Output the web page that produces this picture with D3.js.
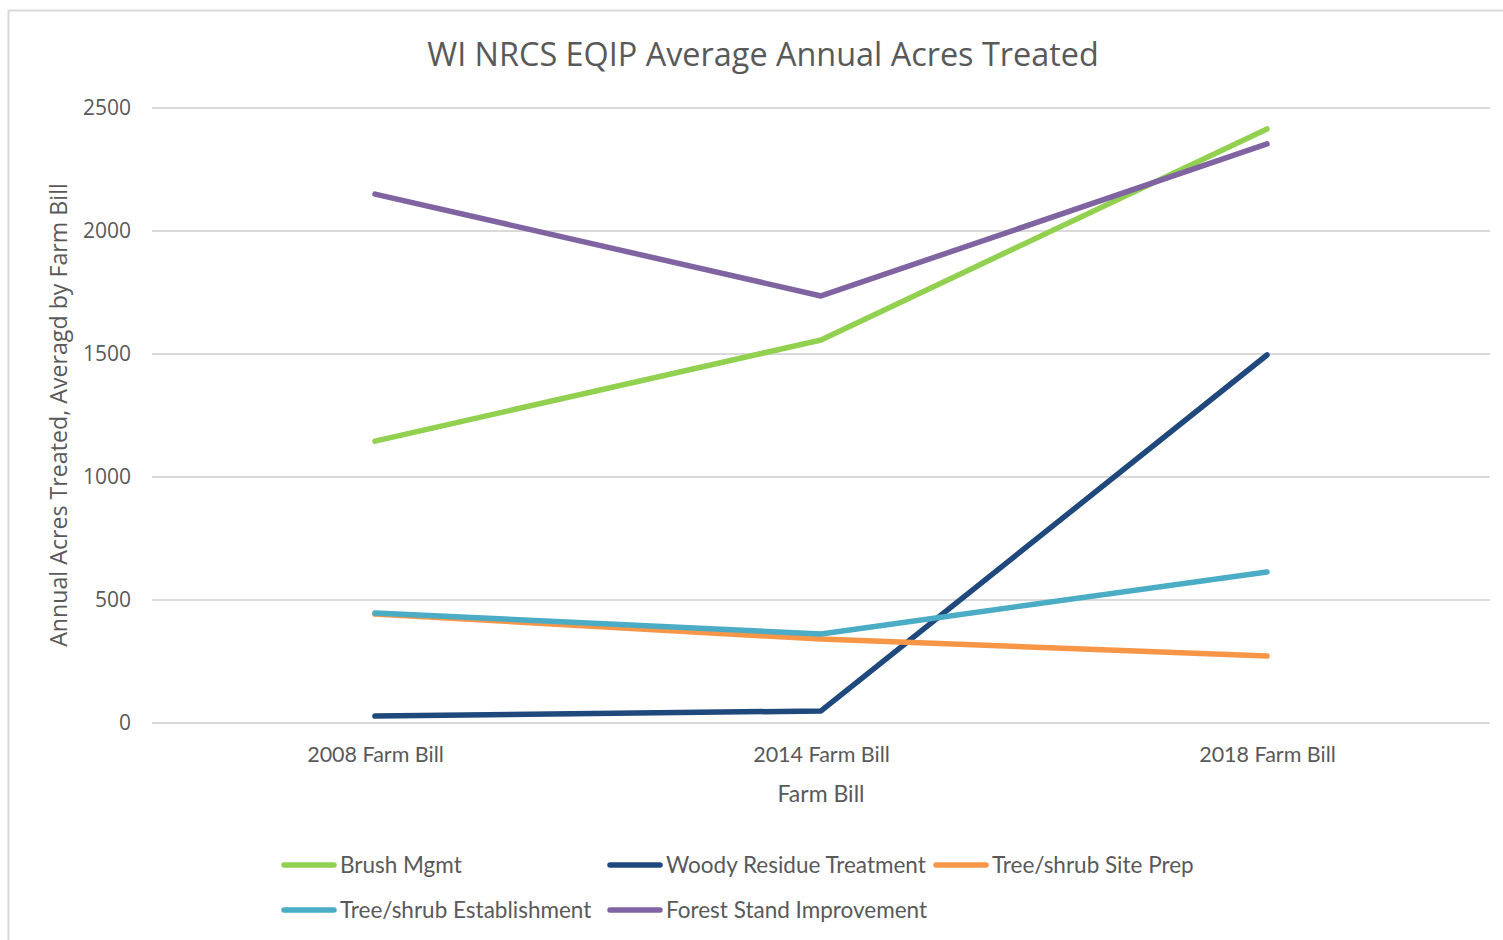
<!DOCTYPE html>
<html>
<head>
<meta charset="utf-8">
<script src="https://cdn.jsdelivr.net/npm/d3@7"></script>
<style>
  body { margin: 0; background: #fff; }
  svg text { fill: #595959; }
</style>
</head>
<body>
<svg id="chart" width="1503" height="940"></svg>
<script>
const categories = ["2008 Farm Bill", "2014 Farm Bill", "2018 Farm Bill"];
const seriesNames = ["Brush Mgmt", "Woody Residue Treatment", "Tree/shrub Site Prep", "Tree/shrub Establishment", "Forest Stand Improvement"];
const brushMgmt = [1146, 1557, 2415];
const woodyResidue = [28, 49, 1496];
const sitePrep = [443, 341, 272];
const establishment = [447, 362, 614];
const forestStand = [2150, 1736, 2354];
const colors = ["#92d050", "#1f497d", "#f79646", "#4bacc6", "#8064a2"];
const yTicks = [0, 500, 1000, 1500, 2000, 2500];

const series = [brushMgmt, woodyResidue, sitePrep, establishment, forestStand]
    .map((values, i) => ({ name: seriesNames[i], values: values, color: colors[i] }));

const wideFont = "'Open Sans', sans-serif";
const narrowFont = "Lato, sans-serif";

const svg = d3.select("#chart");

// chart frame
svg.append("rect")
    .attr("x", 8.5).attr("y", 10.5)
    .attr("width", 1510).attr("height", 950)
    .attr("fill", "none")
    .attr("stroke", "#d9d9d9")
    .attr("stroke-width", 2);

const x = d3.scalePoint()
    .domain(categories)
    .range([152, 1490])
    .padding(0.5);

const y = d3.scaleLinear()
    .domain([0, 2500])
    .range([723, 108]);

// gridlines
svg.append("g")
    .selectAll("line")
    .data(yTicks)
    .join("line")
    .attr("x1", 152).attr("x2", 1490)
    .attr("y1", d => y(d)).attr("y2", d => y(d))
    .attr("stroke", "#d9d9d9")
    .attr("stroke-width", 2);

// y axis labels
const yAxis = svg.append("g")
    .attr("transform", "translate(131,0)")
    .call(d3.axisLeft(y).tickValues(yTicks).tickFormat(d3.format("d")).tickSize(0).tickPadding(0));
yAxis.select(".domain").remove();
yAxis.selectAll("text")
    .style("font-family", wideFont)
    .style("font-size", "21px")
    .style("fill", "#595959");

// x axis labels
const xAxis = svg.append("g")
    .attr("transform", "translate(0,747)")
    .call(d3.axisBottom(x).tickSize(0).tickPadding(0));
xAxis.select(".domain").remove();
xAxis.selectAll("text")
    .style("font-family", narrowFont)
    .style("font-size", "21.5px")
    .style("fill", "#595959");

const line = d3.line()
    .x((d, i) => x(categories[i]))
    .y(d => y(d));

svg.append("g")
    .selectAll("path")
    .data(series)
    .join("path")
    .attr("d", s => line(s.values))
    .attr("fill", "none")
    .attr("stroke", s => s.color)
    .attr("stroke-width", 5.5)
    .attr("stroke-linecap", "round")
    .attr("stroke-linejoin", "round");

// title
svg.append("text")
    .attr("x", 763).attr("y", 66)
    .attr("text-anchor", "middle")
    .style("font-family", wideFont)
    .style("font-size", "32.4px")
    .text("WI NRCS EQIP Average Annual Acres Treated");

// axis titles
svg.append("text")
    .attr("transform", "translate(67,415) rotate(-90)")
    .attr("text-anchor", "middle")
    .style("font-family", wideFont)
    .style("font-size", "23.2px")
    .text("Annual Acres Treated, Averagd by Farm Bill");

svg.append("text")
    .attr("x", 821).attr("y", 802)
    .attr("text-anchor", "middle")
    .style("font-family", narrowFont)
    .style("font-size", "23px")
    .text("Farm Bill");

// legend
const legendPos = [[282, 865], [608, 865], [934, 865], [282, 910], [608, 910]];
const legend = svg.append("g")
    .selectAll("g")
    .data(series)
    .join("g")
    .attr("transform", (s, i) => `translate(${legendPos[i][0]},${legendPos[i][1]})`);

legend.append("line")
    .attr("x1", 2).attr("x2", 52)
    .attr("stroke", s => s.color)
    .attr("stroke-width", 5.5)
    .attr("stroke-linecap", "round");

legend.append("text")
    .attr("x", 58).attr("dy", "0.35em")
    .style("font-family", narrowFont)
    .style("font-size", "22.5px")
    .text(s => s.name);
</script>
</body>
</html>
